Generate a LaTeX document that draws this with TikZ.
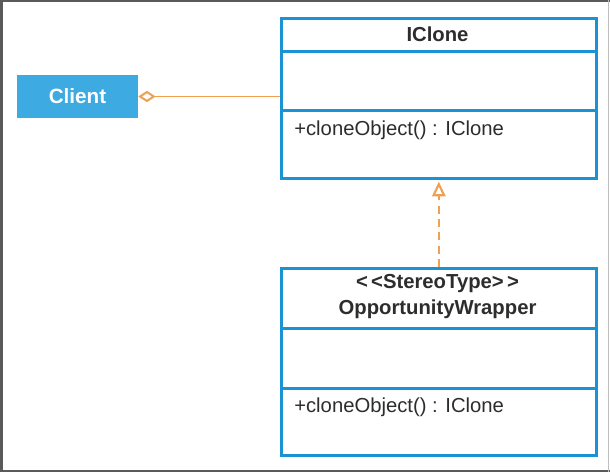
\documentclass[tikz,border=0pt]{standalone}
\usepackage{fontspec}
\setmainfont{Liberation Sans}
\usetikzlibrary{arrows.meta}
\definecolor{umlblue}{RGB}{26,146,212}
\definecolor{clientblue}{RGB}{61,170,226}
\definecolor{umlorange}{RGB}{240,160,80}
\definecolor{txt}{RGB}{45,45,45}
\definecolor{framegray}{RGB}{90,90,90}
\tikzset{
  part/.style={draw=umlblue, line width=2pt, minimum width=236.25pt, inner sep=0pt, anchor=north west},
  optext/.style={anchor=west, inner sep=0pt, text=txt, font=\fontsize{15.2}{18}\selectfont},
  headtext/.style={text=txt, font=\bfseries\fontsize{15.2}{19.5}\selectfont, align=center, inner sep=0pt},
  assoc/.style={draw=umlorange, line width=1.1pt, {Diamond[open, length=13pt, width=8.5pt, line width=1.5pt]}-},
  realize/.style={draw=umlorange, line width=1.3pt, dash pattern=on 6pt off 4pt, -{Triangle[open, length=11pt, width=10pt, line width=1.6pt]}}
}
\begin{document}
\begin{tikzpicture}[x=0.75pt, y=-0.75pt]
\useasboundingbox (0,0) rectangle (610,472);
\fill[white] (0,0) rectangle (610,472);
% frame
\draw[framegray, line width=2.2pt] (1.5,0) -- (1.5,472);
\draw[framegray, line width=1.2pt] (0,1) -- (610,1);
\draw[framegray, line width=1.5pt] (0,470.5) -- (610,470.5);
\draw[gray!50, line width=0.8pt] (608.5,0) -- (608.5,472);
% Client
\node[fill=clientblue, minimum width=90.75pt, minimum height=32.25pt, inner sep=0pt,
      text=white, font=\bfseries\fontsize{15.5}{18}\selectfont] (client) at (77.5,96.5) {Client};
% IClone class
\node[part, minimum height=24.75pt] (ihead) at (280,17) {};
\node[part, minimum height=44.25pt] (iattr) at (280,50) {};
\node[part, minimum height=51pt] (iops) at (280,109) {};
\node[headtext] (iname) at (437.5,34) {IClone};
\node[optext] (iop) at (294,130) {+cloneObject() : IClone};
% OpportunityWrapper class
\node[part, minimum height=45pt] (whead) at (280,267) {};
\node[part, minimum height=45pt] (wattr) at (280,327) {};
\node[part, minimum height=50.25pt] (wops) at (280,387) {};
\node[headtext] (wname) at (437.5,296.5) {\textless\,\textless StereoType\textgreater\,\textgreater\\OpportunityWrapper};
\node[optext] (wop) at (294,407) {+cloneObject() : IClone};
% connectors
\draw[assoc] (client.east) -- (client.east -| iattr.west);
\draw[realize] (whead.north) -- ([yshift=-1.5pt]iops.south);
\end{tikzpicture}
\end{document}
